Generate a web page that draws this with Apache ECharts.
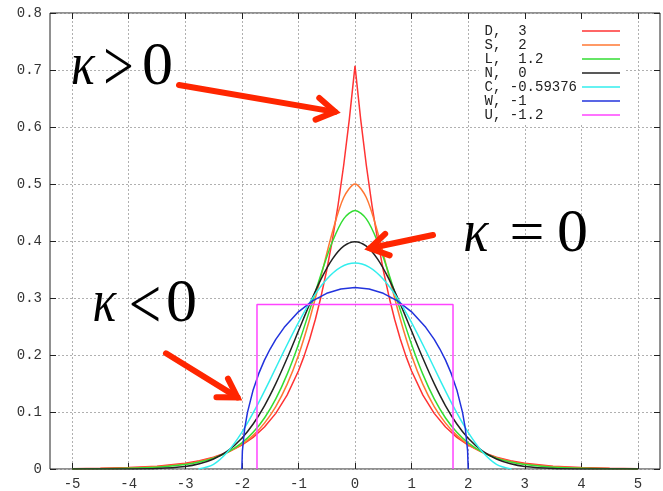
<!DOCTYPE html>
<html><head><meta charset="utf-8">
<script src="https://cdn.jsdelivr.net/npm/echarts@6/dist/echarts.min.js"></script>
<style>html,body{margin:0;padding:0;background:#fff}#c{width:663px;height:491px}</style>
</head><body><div id="c"></div>
<script>
// ---- data ----
const seriesNames = ['D,  3', 'S,  2', 'L,  1.2', 'N,  0', 'C, -0.59376', 'W, -1', 'U, -1.2'];
const xTicks = [-5, -4, -3, -2, -1, 0, 1, 2, 3, 4, 5];
const yTicks = [0, 0.1, 0.2, 0.3, 0.4, 0.5, 0.6, 0.7, 0.8];

const xD = [-5,-4.5,-4,-3.5,-3,-2.75,-2.5,-2.25,-2,-1.8,-1.6,-1.4,-1.2,-1,-0.9,-0.8,-0.7,-0.6,-0.5,-0.4,-0.3,-0.2,-0.1,0,0.1,0.2,0.3,0.4,0.5,0.6,0.7,0.8,0.9,1,1.2,1.4,1.6,1.8,2,2.25,2.5,2.75,3,3.5,4,4.5,5];
const yD = [0.0006,0.0012,0.0025,0.0050,0.0102,0.0145,0.0206,0.0293,0.0418,0.0555,0.0736,0.0976,0.1296,0.1719,0.1980,0.2281,0.2628,0.3027,0.3487,0.4016,0.4626,0.5329,0.6139,0.7071,0.6139,0.5329,0.4626,0.4016,0.3487,0.3027,0.2628,0.2281,0.1980,0.1719,0.1296,0.0976,0.0736,0.0555,0.0418,0.0293,0.0206,0.0145,0.0102,0.0050,0.0025,0.0012,0.0006];

const xSLN = [-5,-4.5,-4,-3.5,-3,-2.75,-2.5,-2.25,-2,-1.8,-1.6,-1.4,-1.2,-1,-0.8,-0.6,-0.4,-0.2,0,0.2,0.4,0.6,0.8,1,1.2,1.4,1.6,1.8,2,2.25,2.5,2.75,3,3.5,4,4.5,5];
const yS = [0.00039,0.00085,0.0019,0.0041,0.0090,0.0133,0.0197,0.0292,0.0431,0.0590,0.0805,0.1096,0.1484,0.1993,0.2633,0.3383,0.4153,0.4763,0.5,0.4763,0.4153,0.3383,0.2633,0.1993,0.1484,0.1096,0.0805,0.0590,0.0431,0.0292,0.0197,0.0133,0.0090,0.0041,0.0019,0.00085,0.00039];
const yL = [0.0002,0.0005,0.0013,0.0032,0.0078,0.0122,0.0191,0.0296,0.0457,0.0643,0.0895,0.1230,0.1660,0.2186,0.2790,0.3418,0.3987,0.4389,0.4534,0.4389,0.3987,0.3418,0.2790,0.2186,0.1660,0.1230,0.0895,0.0643,0.0457,0.0296,0.0191,0.0122,0.0078,0.0032,0.0013,0.0005,0.0002];
const yN = [0,0,0.0001,0.0009,0.0044,0.0091,0.0175,0.0317,0.0540,0.0790,0.1109,0.1497,0.1942,0.2420,0.2897,0.3332,0.3683,0.3910,0.3989,0.3910,0.3683,0.3332,0.2897,0.2420,0.1942,0.1497,0.1109,0.0790,0.0540,0.0317,0.0175,0.0091,0.0044,0.0009,0.0001,0,0];

const xC = [-2.7662,-2.5,-2.25,-2,-1.75,-1.5,-1.25,-1,-0.75,-0.5,-0.25,0,0.25,0.5,0.75,1,1.25,1.5,1.75,2,2.25,2.5,2.7662];
const yC = [0,0.0082,0.0302,0.0642,0.1076,0.1568,0.2080,0.2569,0.2998,0.3331,0.3543,0.3615,0.3543,0.3331,0.2998,0.2569,0.2080,0.1568,0.1076,0.0642,0.0302,0.0082,0];

const xW = [-2,-1.99,-1.95,-1.9,-1.8,-1.7,-1.6,-1.5,-1.4,-1.25,-1,-0.75,-0.5,-0.25,0,0.25,0.5,0.75,1,1.25,1.4,1.5,1.6,1.7,1.8,1.9,1.95,1.99,2];
const yW = [0,0.0318,0.0707,0.0994,0.1387,0.1677,0.1910,0.2105,0.2273,0.2485,0.2757,0.2951,0.3082,0.3158,0.3183,0.3158,0.3082,0.2951,0.2757,0.2485,0.2273,0.2105,0.1910,0.1677,0.1387,0.0994,0.0707,0.0318,0];

const xU = [-1.7321,-1.7321,1.7321,1.7321];
const yU = [0,0.2887,0.2887,0];

// ---- styling ----
const colors = ['#ff3333', '#ff7733', '#33dd33', '#222222', '#33eeee', '#2233dd', '#ff44ff'];
const smoothFlags = [false, 0.3, 0.3, 0.3, 0.3, false, false];
const seriesX = [xD, xSLN, xSLN, xSLN, xC, xW, xU];
const seriesY = [yD, yS, yL, yN, yC, yW, yU];

const mono = '"Liberation Mono", "DejaVu Sans Mono", monospace';
const serif = '"Liberation Serif", "DejaVu Serif", serif';
const RED = '#ff2600';
const gridLine = {show: true, lineStyle: {color: '#b0b0b0', width: 1, type: [2, 2]}};

function pair(xs, ys) { return xs.map((x, i) => [x, ys[i]]); }

function arrow(x1, y1, x2, y2) {
  const a = Math.atan2(y2 - y1, x2 - x1);
  const back = 5;
  const tx = x2 - back * Math.cos(a), ty = y2 - back * Math.sin(a);
  const L = 21, s = 0.55;
  return [
    {type: 'polyline', z: 100, shape: {points: [[x1, y1], [tx, ty]]},
     style: {stroke: RED, lineWidth: 6, lineCap: 'round', fill: null}},
    {type: 'polyline', z: 100, shape: {points: [
       [tx - L * Math.cos(a - s), ty - L * Math.sin(a - s)], [tx, ty],
       [tx - L * Math.cos(a + s), ty - L * Math.sin(a + s)]]},
     style: {stroke: RED, lineWidth: 6, lineCap: 'round', lineJoin: 'miter', fill: null}}
  ];
}
function glyph(t, x, y, italic, sx, size) {
  return {type: 'text', z: 100, x: x, y: y, scaleX: sx || 1,
    style: {text: t, font: (italic ? 'italic ' : '') + (size || 62) + 'px ' + serif, fill: '#000',
            align: 'center', verticalAlign: 'middle'}};
}

const graphics = [].concat(
  arrow(179, 85, 340, 112.7),
  arrow(433, 235, 365, 249.3),
  arrow(166, 353.3, 241.7, 400),
  [glyph('κ', 83, 67.6, true, 0.8), glyph('>', 118.5, 71, false, 0.75, 72), glyph('0', 157.5, 67.6),
   glyph('κ', 476, 234.6, true, 0.85), glyph('=', 527, 236), glyph('0', 572.5, 234.6),
   glyph('κ', 104.5, 304.6, true, 0.8), glyph('<', 145, 309, false, 0.8, 72), glyph('0', 181.4, 304.6)]
);

const tickStyle = {show: true, inside: true, length: 6, lineStyle: {color: '#222'}};

const chart = echarts.init(document.getElementById('c'), null, {renderer: 'canvas'});
chart.setOption({
  animation: false,
  backgroundColor: '#fff',
  grid: {left: 50, right: 3, top: 13, bottom: 21, show: true, borderColor: '#222', borderWidth: 1, backgroundColor: 'transparent'},
  xAxis: [
    {type: 'value', position: 'bottom', min: -5.39, max: 5.39,
     axisLine: {show: false, onZero: false},
     axisTick: Object.assign({customValues: xTicks}, tickStyle),
     axisLabel: {customValues: xTicks, margin: 8, fontFamily: mono, fontSize: 14, color: '#333'},
     splitLine: gridLine},
    {type: 'value', position: 'top', min: -5.39, max: 5.39,
     axisLine: {show: false, onZero: false},
     axisTick: Object.assign({customValues: xTicks}, tickStyle),
     axisLabel: {show: false}, splitLine: {show: false}}
  ],
  yAxis: [
    {type: 'value', position: 'left', min: 0, max: 0.8, interval: 0.1,
     axisLine: {show: false, onZero: false},
     axisTick: tickStyle,
     axisLabel: {margin: 8, fontFamily: mono, fontSize: 14, color: '#333',
                 formatter: v => (Math.abs(v) < 1e-9 ? '0' : v.toFixed(1))},
     splitLine: gridLine},
    {type: 'value', position: 'right', min: 0, max: 0.8, interval: 0.1,
     axisLine: {show: false, onZero: false},
     axisTick: tickStyle,
     axisLabel: {show: false}, splitLine: {show: false}}
  ],
  legend: {
    orient: 'vertical', right: 38, top: 21, align: 'right',
    icon: 'rect', itemWidth: 38, itemHeight: 1.6, itemGap: 0, padding: [3, 5, 3, 6],
    backgroundColor: '#fff', selectedMode: false,
    formatter: n => n.padEnd(11, ' '),
    textStyle: {fontFamily: mono, fontSize: 14, color: '#222', lineHeight: 13.8},
    data: seriesNames
  },
  series: seriesNames.map((name, i) => ({
    name: name, type: 'line', xAxisIndex: 0, yAxisIndex: 0,
    data: pair(seriesX[i], seriesY[i]),
    symbol: 'none', smooth: smoothFlags[i], silent: true, z: 2 + i * 0.01,
    lineStyle: {color: colors[i], width: 1.5},
    itemStyle: {color: colors[i]}
  })),
  graphic: graphics
});
</script>
</body></html>
